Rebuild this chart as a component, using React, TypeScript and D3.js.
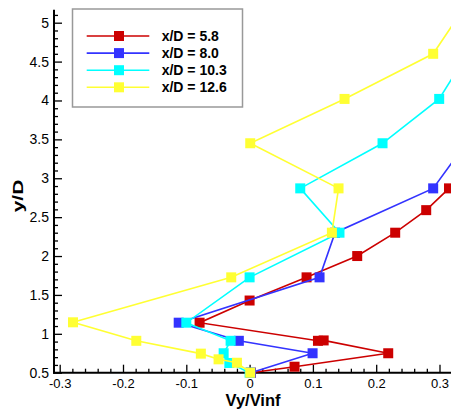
import React, { useEffect, useRef } from 'react';
import * as d3 from 'd3';

// series (x = Vy/Vinf, y = y/D)
const labels = ['x/D = 5.8', 'x/D = 8.0', 'x/D = 10.3', 'x/D = 12.6'];
const colors = ['#cc0000', '#3333ff', '#00ffff', '#ffff33'];

const red_x = [0.002, 0.071, 0.219, 0.117, 0.108, -0.079, 0.0, 0.09, 0.17, 0.23, 0.279, 0.315, 0.37];
const red_y = [0.5, 0.577, 0.75, 0.915, 0.91, 1.143, 1.428, 1.726, 2.0, 2.3, 2.59, 2.87, 3.45];

const blue_x = [0.002, 0.0995, -0.017, -0.112, 0.1105, 0.135, 0.29, 0.342];
const blue_y = [0.5, 0.75, 0.91, 1.143, 1.726, 2.3, 2.87, 3.45];

const cyan_x = [0.0, -0.032, -0.041, -0.03, -0.1, 0.0, 0.142, 0.08, 0.21, 0.2995, 0.344];
const cyan_y = [0.5, 0.625, 0.75, 0.91, 1.143, 1.726, 2.3, 2.87, 3.45, 4.02, 4.6];

const yellow_x = [0.001, -0.02, -0.049, -0.077, -0.179, -0.279, -0.029, 0.13, 0.1405, 0.001, 0.15, 0.29, 0.337];
const yellow_y = [0.5, 0.628, 0.672, 0.745, 0.91, 1.148, 1.726, 2.3, 2.87, 3.45, 4.02, 4.6, 5.17];

const xTicks = [-0.3, -0.2, -0.1, 0, 0.1, 0.2, 0.3];
const yTicks = [0.5, 1, 1.5, 2, 2.5, 3, 3.5, 4, 4.5, 5];

export default function App() {
    const ref = useRef<SVGSVGElement>(null);

    useEffect(() => {
        const W = 451;
        const font = 'Liberation Sans, Arial, sans-serif';
        const svg = d3.select(ref.current);
        svg.selectAll('*').remove();

        const x = d3.scaleLinear().domain([-0.3, 0.3]).range([59.7, 439.5]);
        const y = d3.scaleLinear().domain([0.5, 5]).range([372.7, 22.7]);
        const x0 = x(-0.309), y0 = y(0.5);

        const series = [
            d3.zip(red_x, red_y),
            d3.zip(blue_x, blue_y),
            d3.zip(cyan_x, cyan_y),
            d3.zip(yellow_x, yellow_y),
        ];

        // minor ticks
        const yMinor = d3.range(0.6, 5.15, 0.1).filter(v => Math.abs(v * 2 - Math.round(v * 2)) > 1e-6);
        const xMinor = d3.range(-0.3, 0.33, 0.02).filter(v => Math.abs(v * 10 - Math.round(v * 10)) > 1e-6);

        const axisY = svg.append('g').attr('transform', `translate(${x0},0)`);
        axisY.call(d3.axisLeft(y).tickValues(yTicks).tickSize(-8).tickPadding(5).tickFormat(d => String(d)));
        axisY.append('g').call(d3.axisLeft(y).tickValues(yMinor).tickSize(-4).tickFormat(() => ''));

        const axisX = svg.append('g').attr('transform', `translate(0,${y0})`);
        axisX.call(d3.axisBottom(x).tickValues(xTicks).tickSize(-8).tickPadding(6).tickFormat(d => String(d)));
        axisX.append('g').call(d3.axisBottom(x).tickValues(xMinor).tickSize(-4).tickFormat(() => ''));

        svg.selectAll('.domain').remove();
        svg.selectAll('.tick line').attr('stroke', '#000').attr('stroke-width', 1.3);
        axisY.selectAll('text').attr('font-family', font).attr('font-size', 14).attr('fill', '#000');
        axisX.selectAll('text').attr('font-family', font).attr('font-size', 13).attr('fill', '#000');

        // axis lines
        svg.append('line').attr('x1', x0).attr('x2', x0).attr('y1', y(5.165)).attr('y2', y0 + 1)
            .attr('stroke', '#000').attr('stroke-width', 2);
        svg.append('line').attr('x1', x0 - 1).attr('x2', W).attr('y1', y0).attr('y2', y0)
            .attr('stroke', '#000').attr('stroke-width', 2);

        // data
        const line = d3.line<[number, number]>().x(d => x(d[0])).y(d => y(d[1]));
        const ms = 10;
        series.forEach((pts, i) => {
            const g = svg.append('g');
            g.append('path').attr('d', line(pts as [number, number][])).attr('fill', 'none')
                .attr('stroke', colors[i]).attr('stroke-width', 1.6);
            g.selectAll('rect').data(pts).join('rect')
                .attr('x', d => x(d[0]) - ms / 2).attr('y', d => y(d[1]) - ms / 2)
                .attr('width', ms).attr('height', ms).attr('fill', colors[i]);
        });

        // legend
        const lg = svg.append('g');
        lg.append('rect').attr('x', 72.5).attr('y', 9).attr('width', 170).attr('height', 98)
            .attr('fill', '#fff').attr('stroke', '#999').attr('stroke-width', 1.5);
        const rowY = d3.scalePoint<string>().domain(labels).range([36, 87.3]);
        labels.forEach((lab, i) => {
            const cy = rowY(lab)!;
            lg.append('line').attr('x1', 86.7).attr('x2', 149.3).attr('y1', cy).attr('y2', cy)
                .attr('stroke', colors[i]).attr('stroke-width', 1.6);
            lg.append('rect').attr('x', 119 - ms / 2).attr('y', cy - ms / 2).attr('width', ms).attr('height', ms)
                .attr('fill', colors[i]);
            lg.append('text').attr('x', 161.7).attr('y', cy + 5).attr('font-family', font)
                .attr('font-size', 14).attr('font-weight', 'bold').text(lab);
        });

        // axis titles
        svg.append('text').attr('x', 253).attr('y', 405.5).attr('text-anchor', 'middle')
            .attr('font-family', font).attr('font-size', 16.5).attr('font-weight', 'bold').text('Vy/Vinf');
        svg.append('text').attr('transform', 'translate(23,196) rotate(-90) scale(1.4,1)')
            .attr('text-anchor', 'middle').attr('font-family', font).attr('font-size', 15)
            .attr('font-weight', 'bold').text('y/D');
    }, []);

    return (
        <svg ref={ref} width={451} height={413}
            style={{ position: 'absolute', left: 0, top: 0, background: '#fff', overflow: 'hidden' }} />
    );
}
